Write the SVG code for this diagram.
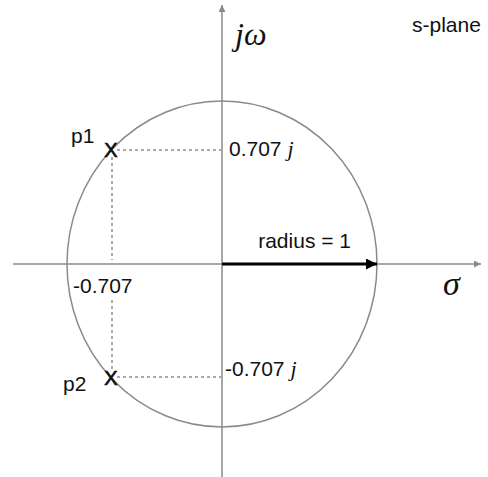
<svg xmlns="http://www.w3.org/2000/svg" width="488" height="477" viewBox="0 0 488 477">
<style>
.axis{stroke:#8a8a8a;stroke-width:1.5;fill:none}
.circ{stroke:#8a8a8a;stroke-width:1.5;fill:none}
.dash{stroke:#555;stroke-width:1;stroke-dasharray:3 3;fill:none}
.lbl{font-family:"Liberation Sans",Arial,sans-serif;font-size:21px;fill:#111}
.mk{font-family:"Liberation Sans",Arial,sans-serif;font-size:20px;fill:#111;stroke:#111;stroke-width:0.7}
.math{font-family:"Liberation Serif","Times New Roman",serif;font-style:italic;fill:#111}
</style>
<defs>
<marker id="ga" viewBox="0 0 10 10" refX="10" refY="5" markerWidth="7" markerHeight="7" markerUnits="userSpaceOnUse" orient="auto"><path d="M0,0 L10,5 L0,10 Z" fill="#8a8a8a"/></marker>
<marker id="ba" viewBox="0 0 10 10" refX="10" refY="5" markerWidth="12" markerHeight="11" markerUnits="userSpaceOnUse" orient="auto"><path d="M0,0 L10,5 L0,10 Z" fill="#000"/></marker>
</defs>
<rect width="488" height="477" fill="#fff"/>
<g id="axes">
<line class="axis" x1="13" y1="264" x2="481" y2="264" marker-end="url(#ga)"/>
<line class="axis" x1="222" y1="477" x2="222" y2="5" marker-end="url(#ga)"/>
</g>
<g id="circle"><ellipse class="circ" cx="222" cy="264" rx="155" ry="163"/></g>
<g id="connectors">
<line class="dash" x1="117" y1="150" x2="221" y2="150"/>
<line class="dash" x1="112" y1="157" x2="112" y2="260"/>
<line class="dash" x1="112" y1="300" x2="112" y2="371"/>
<line class="dash" x1="117" y1="377" x2="221" y2="377"/>
<line x1="222" y1="264" x2="377" y2="264" stroke="#000" stroke-width="3" marker-end="url(#ba)"/>
</g>
<g id="p1"><text class="mk" x="111" y="157" text-anchor="middle">X</text><text class="lbl" x="71" y="143" font-size="18">p1</text></g>
<g id="p2"><text class="mk" x="111" y="385" text-anchor="middle">X</text><text class="lbl" x="63" y="391" font-size="18">p2</text></g>
<g id="labels">
<text class="math" x="235" y="45" font-size="32">jω</text>
<text class="math" x="443" y="295" font-size="34">σ</text>
<text class="lbl" x="412" y="32" font-size="20">s-plane</text>
<text class="lbl" x="351" y="248" text-anchor="end" font-size="22">radius = 1</text>
<text class="lbl" x="229" y="156">0.707 <tspan class="math" font-size="22">j</tspan></text>
<text class="lbl" x="225" y="376">-0.707 <tspan class="math" font-size="22">j</tspan></text>
<text class="lbl" x="73" y="293" font-size="22">-0.707</text>
</g>
</svg>
